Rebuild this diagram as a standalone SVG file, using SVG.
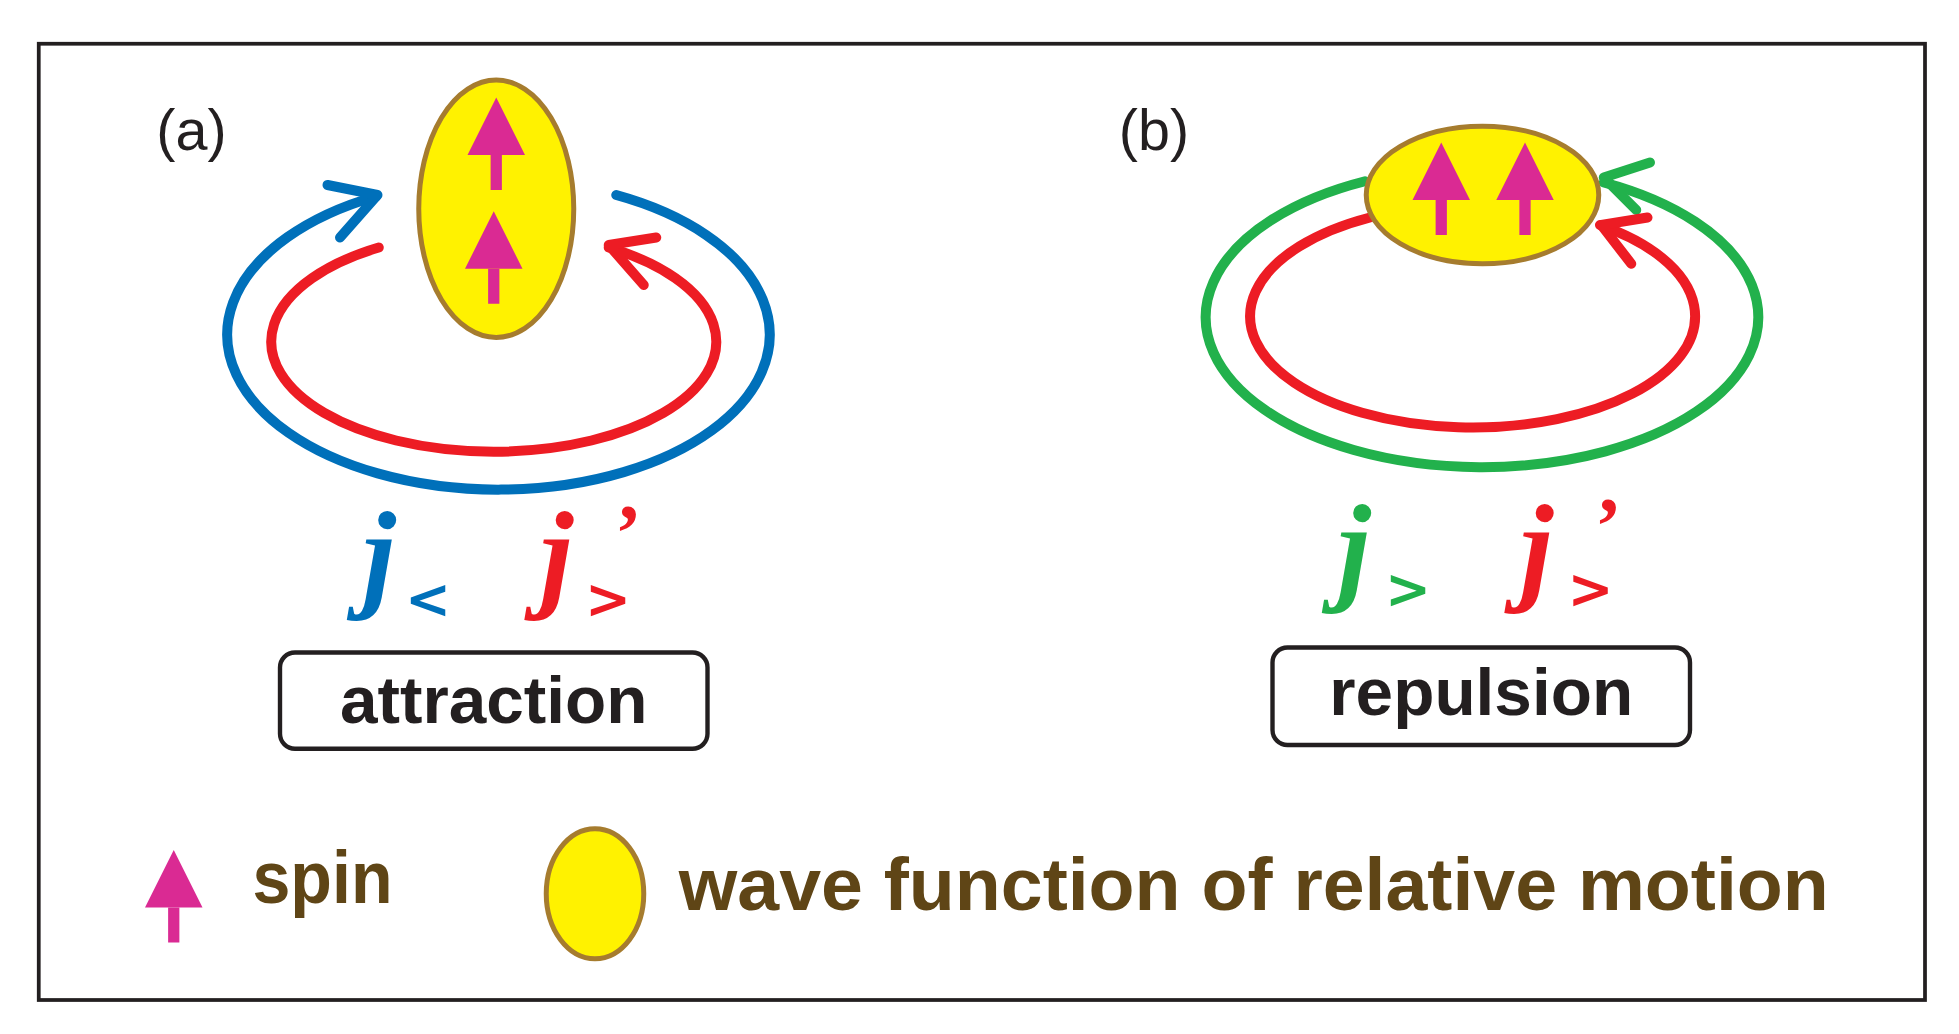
<svg xmlns="http://www.w3.org/2000/svg" width="1959" height="1034" viewBox="0 0 1959 1034">
<style>
.lbl{font-family:"Liberation Sans",sans-serif;font-size:46px;fill:#231f20}
.box{fill:none;stroke:#231f20;stroke-width:3.5}
.boxt{font-family:"Liberation Sans",sans-serif;font-weight:bold;font-size:54px;fill:#231f20;text-anchor:middle}
.wf{fill:#FFF200;stroke:#A67C2E;stroke-width:4}
.spin{fill:#DA2A93}
.ln{fill:none;stroke-width:8;stroke-linecap:round;stroke-linejoin:round}
.j{font-family:"Liberation Serif",serif;font-style:italic;font-weight:bold;font-size:96px}
.ap{font-family:"Liberation Serif",serif;font-weight:bold;font-size:64px}
.sub{font-family:"DejaVu Sans",sans-serif;font-weight:bold;font-size:44px}
.leg{font-family:"Liberation Sans",sans-serif;font-weight:bold;font-size:60px;fill:#5F4516}
</style>
<defs>
<g id="sp"><polygon points="0,0 -23,46 23,46"/><rect x="-4.5" y="46" width="9" height="28"/></g>
</defs>
<rect width="1959" height="1034" fill="#fff"/>
<g transform="scale(1.25)">
<rect x="31" y="35" width="1509" height="765" fill="none" stroke="#231f20" stroke-width="3"/>
<g id="connectors">
<path class="ln" stroke="#0070BA" d="M493,156 A217,124 0 1 1 301,157"/>
<polyline class="ln" stroke="#0070BA" points="262,148 302,156 272,190"/>
<path class="ln" stroke="#ED1C24" d="M303,198 A178,88 0 1 0 487,198"/>
<polyline class="ln" stroke="#ED1C24" points="525,190 487,196 515,228"/>
<path class="ln" stroke="#22B14C" d="M1092,145 A221,120 0 1 0 1283,146"/>
<polyline class="ln" stroke="#22B14C" points="1320,130 1283,142 1309,168"/>
<path class="ln" stroke="#ED1C24" d="M1096,174 A178,89 0 1 0 1280,180"/>
<polyline class="ln" stroke="#ED1C24" points="1318,174 1281,180 1305,211"/>
</g>
<g id="panel-a">
<text class="lbl" x="125" y="120">(a)</text>
<ellipse class="wf" cx="397" cy="167" rx="62" ry="103"/>
<use href="#sp" class="spin" x="397" y="78"/>
<use href="#sp" class="spin" x="395" y="169"/>
<text class="j" x="290" y="476" fill="#0070BA">j</text>
<text class="sub" x="324" y="494" fill="#0070BA">&lt;</text>
<text class="j" x="432" y="476" fill="#ED1C24">j</text>
<text class="ap" x="492" y="448" fill="#ED1C24">’</text>
<text class="sub" x="468" y="494" fill="#ED1C24">&gt;</text>
</g>
<g id="attraction"><rect class="box" x="224" y="522" width="342" height="77" rx="12"/><text class="boxt" x="395" y="578">attraction</text></g>
<g id="panel-b">
<text class="lbl" x="895" y="120">(b)</text>
<ellipse class="wf" cx="1186" cy="156" rx="93" ry="55"/>
<use href="#sp" class="spin" x="1153" y="114"/>
<use href="#sp" class="spin" x="1220" y="114"/>
<text class="j" x="1070" y="470" fill="#22B14C">j</text>
<text class="sub" x="1108" y="486" fill="#22B14C">&gt;</text>
<text class="j" x="1216" y="470" fill="#ED1C24">j</text>
<text class="ap" x="1276" y="442" fill="#ED1C24">’</text>
<text class="sub" x="1254" y="486" fill="#ED1C24">&gt;</text>
</g>
<g id="repulsion"><rect class="box" x="1018" y="518" width="334" height="78" rx="12"/><text class="boxt" x="1185" y="572">repulsion</text></g>
<g id="legend">
<use href="#sp" class="spin" x="139" y="680"/>
<text class="leg" x="202" y="722" textLength="112" lengthAdjust="spacingAndGlyphs">spin</text>
<ellipse class="wf" cx="476" cy="715" rx="39" ry="52"/>
<text class="leg" x="543" y="728" textLength="920" lengthAdjust="spacingAndGlyphs">wave function of relative motion</text>
</g>
</g>
</svg>
